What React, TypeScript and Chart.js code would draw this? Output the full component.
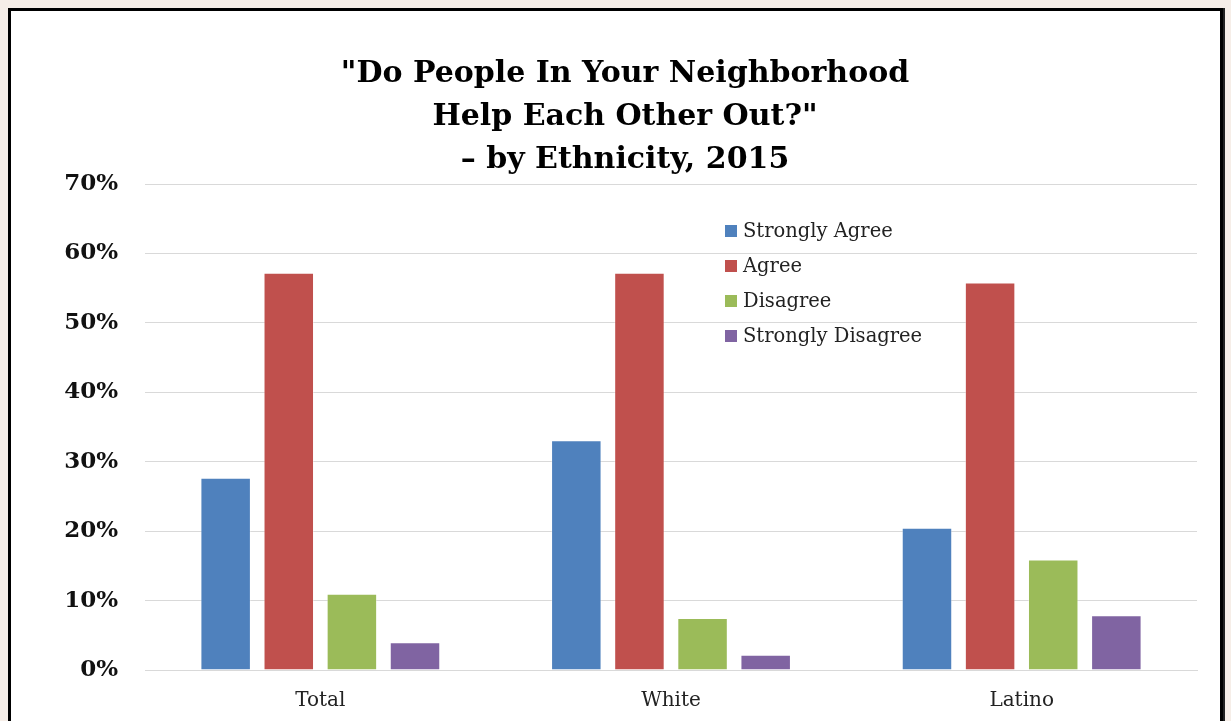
import React, { useEffect, useRef } from "react";
import { Chart, registerables } from "chart.js";

Chart.register(...registerables);

const categories = ["Total", "White", "Latino"];
const seriesNames = ["Strongly Agree", "Agree", "Disagree", "Strongly Disagree"];
const stronglyAgree = [27.7, 33.1, 20.5];
const agree = [57.2, 57.2, 55.8];
const disagree = [11.0, 7.5, 15.9];
const stronglyDisagree = [4.0, 2.2, 7.9];
const colors = ["#4f81bd", "#c0504d", "#9bbb59", "#8064a2"];
const yTicks = [0, 10, 20, 30, 40, 50, 60, 70];
const titleLines = ['"Do People In Your Neighborhood', 'Help Each Other Out?"', "\u2013 by Ethnicity, 2015"];

const FONT = "'DejaVu Serif', 'Liberation Serif', serif";
const CANVAS_W = 1209;
const CANVAS_H = 710;

const innerLegend = {
  id: "innerLegend",
  afterDraw(chart: any) {
    const ctx = chart.ctx;
    const area = chart.chartArea;
    const x0 = area.left + 580;
    const y0 = area.top + 47;
    ctx.save();
    ctx.font = `19.5px ${FONT}`;
    ctx.textBaseline = "middle";
    chart.data.datasets.forEach((ds: any, i: number) => {
      const y = y0 + i * 35;
      ctx.fillStyle = ds.backgroundColor;
      ctx.fillRect(x0, y - 6, 12, 12);
      ctx.fillStyle = "#222";
      ctx.fillText(ds.label, x0 + 18, y + 1);
    });
    ctx.restore();
  },
};

export default function App() {
  const ref = useRef<HTMLCanvasElement>(null);
  useEffect(() => {
    document.body.style.background = "#f6eee8";
    const data = [stronglyAgree, agree, disagree, stronglyDisagree];
    const chart = new Chart(ref.current!, {
      type: "bar",
      data: {
        labels: categories,
        datasets: seriesNames.map((n, i) => ({
          label: n,
          data: data[i],
          backgroundColor: colors[i],
          borderColor: "rgba(255,255,255,0.35)",
          borderWidth: 1,
          categoryPercentage: 0.72,
          barPercentage: 0.8,
        })),
      },
      options: {
        animation: false,
        responsive: false,
        maintainAspectRatio: false,
        layout: { padding: { left: 42, right: 23, top: 42, bottom: 0 } },
        plugins: {
          legend: { display: false },
          tooltip: { enabled: false },
          title: {
            display: true,
            text: titleLines,
            color: "#000",
            font: { family: FONT, size: 30, weight: "bold", lineHeight: 43 / 30 },
            padding: { top: 0, bottom: 2 },
          },
        },
        scales: {
          x: {
            grid: { display: false, drawTicks: false },
            border: { display: true, color: "#d9d9d9" },
            ticks: { color: "#222", font: { family: FONT, size: 20 }, padding: 19 },
            afterFit: (s: any) => {
              s.height = CANVAS_H - 659;
            },
          },
          y: {
            min: 0,
            max: 70,
            afterBuildTicks: (axis: any) => {
              axis.ticks = yTicks.map((v) => ({ value: v }));
            },
            grid: { color: "#d9d9d9", drawTicks: false },
            border: { display: false },
            ticks: {
              color: "#111",
              font: { family: FONT, size: 23, weight: "bold" },
              padding: 27,
              callback: (v: any) => `${v}%`,
            },
            afterFit: (s: any) => {
              s.width = 92;
            },
          },
        },
      },
      plugins: [innerLegend],
    });
    return () => chart.destroy();
  }, []);
  return (
    <div
      style={{
        position: "absolute",
        left: 8,
        top: 8,
        width: 1215,
        height: 760,
        boxSizing: "border-box",
        border: "3px solid #000",
        background: "#fff",
        boxShadow: "2px 0 0 #222",
      }}
    >
      <canvas ref={ref} width={CANVAS_W} height={CANVAS_H} style={{ display: "block" }} />
    </div>
  );
}
